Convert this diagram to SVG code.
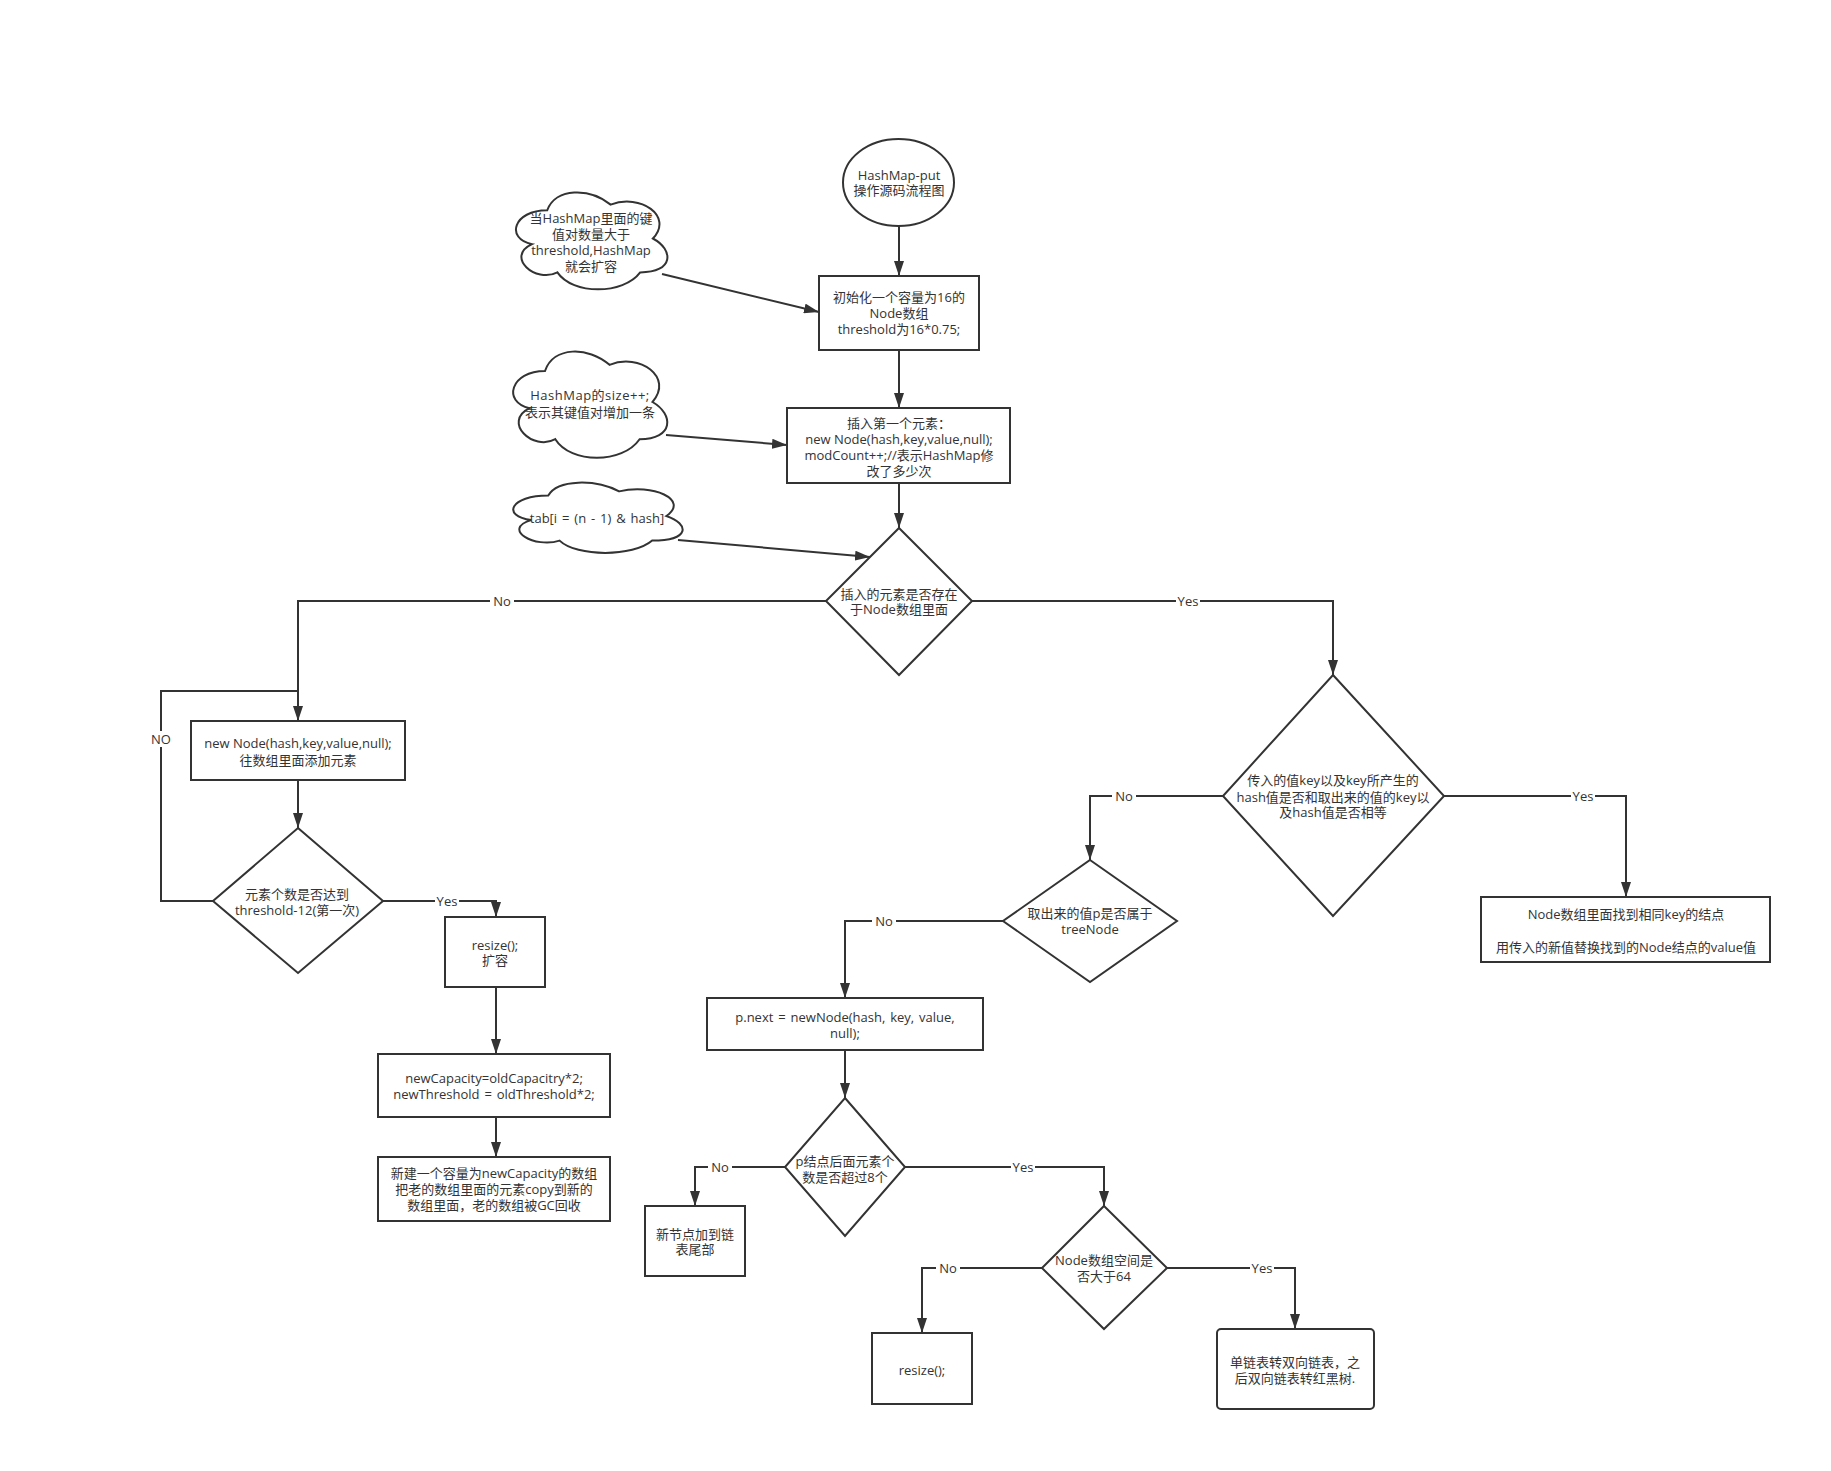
<svg xmlns="http://www.w3.org/2000/svg" width="1831" height="1471" viewBox="0 0 1831 1471">
<defs>
<marker id="arr" viewBox="0 0 15 10" refX="15" refY="5" markerWidth="15" markerHeight="10" markerUnits="userSpaceOnUse" orient="auto">
<path d="M0,0 L15,5 L0,10 Z" fill="#333333"/>
</marker>
<style>
.s{fill:#ffffff;stroke:#333333;stroke-width:2}
.c{fill:none;stroke:#333333;stroke-width:2}
.a{fill:none;stroke:#333333;stroke-width:2;marker-end:url(#arr)}
text{font-family:"Open Sans","Noto Sans CJK SC",sans-serif;font-size:13px;fill:#333333;text-anchor:middle;dominant-baseline:central}
.ws{word-spacing:1.5px}
.lb{fill:#ffffff;stroke:none}
</style>
</defs>
<rect width="1831" height="1471" fill="#ffffff"/>
<g id="connectors">
<path class="a" d="M899,226 L899,276"/>
<path class="a" d="M662,274 L819,312"/>
<path class="a" d="M899,350 L899,408"/>
<path class="a" d="M666,435 L787,445"/>
<path class="a" d="M899,483 L899,528"/>
<path class="a" d="M678,540 L870,557"/>
<path class="a" d="M826,601 L298,601 L298,721"/>
<path class="a" d="M298,780 L298,828"/>
<path class="c" d="M213,901 L161,901 L161,691 L298,691"/>
<path class="a" d="M383,901 L496,901 L496,917"/>
<path class="a" d="M496,987 L496,1054"/>
<path class="a" d="M496,1117 L496,1157"/>
<path class="a" d="M972,601 L1333,601 L1333,675"/>
<path class="a" d="M1223,796 L1090,796 L1090,860"/>
<path class="a" d="M1444,796 L1626,796 L1626,897"/>
<path class="a" d="M1003,921 L845,921 L845,998"/>
<path class="a" d="M845,1050 L845,1098"/>
<path class="a" d="M785,1167 L695,1167 L695,1206"/>
<path class="a" d="M905,1167 L1104,1167 L1104,1206"/>
<path class="a" d="M1042,1268 L922,1268 L922,1333"/>
<path class="a" d="M1167,1268 L1295,1268 L1295,1329"/>
<rect class="lb" x="490" y="593" width="24" height="16"/><text x="502" y="601">No</text>
<rect class="lb" x="150" y="731" width="22" height="16"/><text x="161" y="739">NO</text>
<rect class="lb" x="435" y="893" width="24" height="16"/><text x="447" y="901">Yes</text>
<rect class="lb" x="1176" y="593" width="24" height="16"/><text x="1188" y="601">Yes</text>
<rect class="lb" x="1112" y="788" width="24" height="16"/><text x="1124" y="796">No</text>
<rect class="lb" x="1571" y="788" width="24" height="16"/><text x="1583" y="796">Yes</text>
<rect class="lb" x="872" y="913" width="24" height="16"/><text x="884" y="921">No</text>
<rect class="lb" x="708" y="1159" width="24" height="16"/><text x="720" y="1167">No</text>
<rect class="lb" x="1011" y="1159" width="24" height="16"/><text x="1023" y="1167">Yes</text>
<rect class="lb" x="936" y="1260" width="24" height="16"/><text x="948" y="1268">No</text>
<rect class="lb" x="1250" y="1260" width="24" height="16"/><text x="1262" y="1268">Yes</text>
</g>
<g id="start">
<ellipse class="s" cx="898.5" cy="182.5" rx="55.5" ry="43.5"/>
<text x="899" y="175">HashMap-put</text>
<text x="899" y="190">操作源码流程图</text>
</g>
<g id="cloud1">
<path class="s" d="M547.25,210.25 C513.45,210.25 505,238.5 532.04,244.15 C505,256.58 535.42,283.7 557.39,272.4 C572.6,295 623.3,295 640.2,272.4 C674,272.4 674,249.8 652.88,238.5 C674,215.9 640.2,193.3 610.63,204.6 C589.5,187.65 555.7,187.65 547.25,210.25 Z"/>
<text x="591" y="218">当HashMap里面的键</text>
<text x="591" y="234">值对数量大于</text>
<text x="591" y="250">threshold,HashMap</text>
<text x="591" y="266">就会扩容</text>
</g>
<g id="init">
<rect class="s" x="819" y="276" width="160" height="74"/>
<text x="899" y="297">初始化一个容量为16的</text>
<text x="899" y="313">Node数组</text>
<text x="899" y="329">threshold为16*0.75;</text>
</g>
<g id="cloud2">
<path class="s" d="M545,371 C510.6,371 502,402 529.52,408.2 C502,421.84 532.96,451.6 555.32,439.2 C570.8,464 622.4,464 639.6,439.2 C674,439.2 674,414.4 652.5,402 C674,377.2 639.6,352.4 609.5,364.8 C588,346.2 553.6,346.2 545,371 Z"/>
<text x="590" y="395" letter-spacing="0.5">HashMap的size++;</text>
<text x="590" y="412">表示其键值对增加一条</text>
</g>
<g id="insert">
<rect class="s" x="787" y="408" width="223" height="75"/>
<text x="899" y="423">插入第一个元素：</text>
<text x="899" y="439">new Node(hash,key,value,null);</text>
<text x="899" y="455">modCount++;//表示HashMap修</text>
<text x="899" y="471">改了多少次</text>
</g>
<g id="cloud3">
<path class="s" d="M548.25,495.5 C510.45,495.5 501,516 531.24,520.1 C501,529.12 535.02,548.8 559.59,540.6 C576.6,557 633.3,557 652.2,540.6 C690,540.6 690,524.2 666.38,516 C690,499.6 652.2,483.2 619.13,491.4 C595.5,479.1 557.7,479.1 548.25,495.5 Z"/>
<text class="ws" x="597" y="518">tab[i = (n - 1) &amp; hash]</text>
</g>
<g id="exists">
<polygon class="s" points="899,528 972,601 899,675 826,601"/>
<text x="899" y="594">插入的元素是否存在</text>
<text x="899" y="609">于Node数组里面</text>
</g>
<g id="newnode">
<rect class="s" x="191" y="721" width="214" height="59"/>
<text x="298" y="743">new Node(hash,key,value,null);</text>
<text x="298" y="760">往数组里面添加元素</text>
</g>
<g id="threshold">
<polygon class="s" points="298,828 383,901 298,973 213,901"/>
<text x="297" y="894">元素个数是否达到</text>
<text x="297" y="910">threshold-12(第一次)</text>
</g>
<g id="resize1">
<rect class="s" x="445" y="917" width="100" height="70"/>
<text x="495" y="945">resize();</text>
<text x="495" y="960">扩容</text>
</g>
<g id="newcap">
<rect class="s" x="378" y="1054" width="232" height="63"/>
<text x="494" y="1078">newCapacity=oldCapacitry*2;</text>
<text class="ws" x="494" y="1094">newThreshold = oldThreshold*2;</text>
</g>
<g id="newarray">
<rect class="s" x="378" y="1157" width="232" height="64"/>
<text x="494" y="1173">新建一个容量为newCapacity的数组</text>
<text x="494" y="1189">把老的数组里面的元素copy到新的</text>
<text x="494" y="1205">数组里面，老的数组被GC回收</text>
</g>
<g id="samekey">
<polygon class="s" points="1333,675 1444,796 1333,916 1223,796"/>
<text x="1333" y="780">传入的值key以及key所产生的</text>
<text x="1333" y="797">hash值是否和取出来的值的key以</text>
<text x="1333" y="812">及hash值是否相等</text>
</g>
<g id="replace">
<rect class="s" x="1481" y="897" width="289" height="65"/>
<text x="1626" y="914">Node数组里面找到相同key的结点</text>
<text x="1626" y="947">用传入的新值替换找到的Node结点的value值</text>
</g>
<g id="treenode">
<polygon class="s" points="1090,860 1177,921 1090,982 1003,921"/>
<text x="1090" y="913">取出来的值p是否属于</text>
<text x="1090" y="929">treeNode</text>
</g>
<g id="pnext">
<rect class="s" x="707" y="998" width="276" height="52"/>
<text class="ws" x="845" y="1017">p.next = newNode(hash, key, value,</text>
<text x="845" y="1033">null);</text>
</g>
<g id="over8">
<polygon class="s" points="845,1098 905,1167 845,1236 785,1167"/>
<text x="845" y="1161">p结点后面元素个</text>
<text x="845" y="1177">数是否超过8个</text>
</g>
<g id="tail">
<rect class="s" x="645" y="1206" width="100" height="70"/>
<text x="695" y="1234">新节点加到链</text>
<text x="695" y="1249">表尾部</text>
</g>
<g id="over64">
<polygon class="s" points="1104,1206 1167,1268 1104,1329 1042,1268"/>
<text x="1104" y="1260">Node数组空间是</text>
<text x="1104" y="1276">否大于64</text>
</g>
<g id="resize2">
<rect class="s" x="872" y="1333" width="100" height="71"/>
<text x="922" y="1370">resize();</text>
</g>
<g id="redblack">
<rect class="s" x="1217" y="1329" width="157" height="80" rx="4" ry="4"/>
<text x="1295" y="1362">单链表转双向链表，之</text>
<text x="1295" y="1378">后双向链表转红黑树.</text>
</g>
</svg>
